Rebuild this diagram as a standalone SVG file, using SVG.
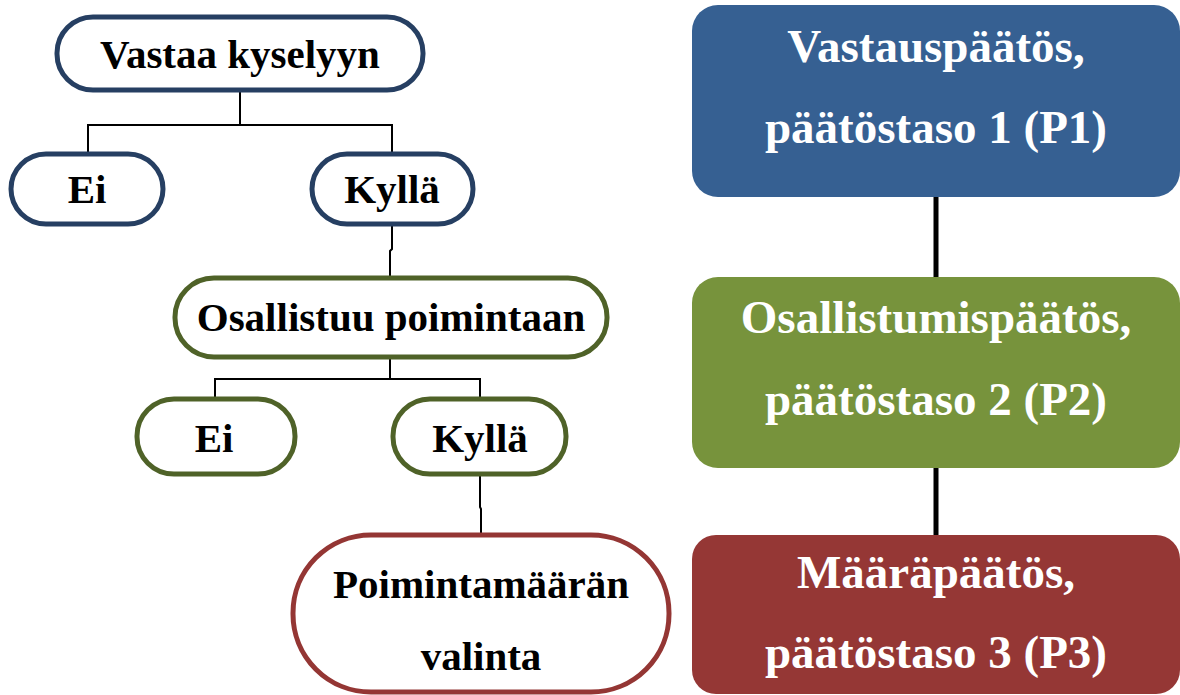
<svg xmlns="http://www.w3.org/2000/svg" width="1180" height="695" viewBox="0 0 1180 695">
<style>
text{font-family:"Liberation Serif","Times New Roman",serif;font-weight:bold;text-anchor:middle}
.l{font-size:41px;fill:#000}
.r{font-size:47px;fill:#fff}
.nb{fill:#fff;stroke:#263f62;stroke-width:5}
.ng{fill:#fff;stroke:#4f6228;stroke-width:5}
.nr{fill:#fff;stroke:#943634;stroke-width:5}
.c{fill:none;stroke:#000;stroke-width:2}
.ct{fill:none;stroke:#000;stroke-width:5}
</style>
<g id="connectors">
<path class="c" d="M240 91V125M88 125H392M88 124V154M392 124V154"/>
<path class="c" d="M392 224V249L390 251V277"/>
<path class="c" d="M390 358V379M215 379H480M215 378V398M480 378V398"/>
<path class="c" d="M480 475V507L481 509V533"/>
<path class="ct" d="M936 196V278M936 467V536"/>
</g>
<g id="vastaa"><rect class="nb" x="57" y="17" width="366" height="73" rx="36"/><text class="l" x="240" y="68">Vastaa kyselyyn</text></g>
<g id="ei1"><rect class="nb" x="11" y="154" width="152" height="70" rx="35"/><text class="l" x="87" y="203">Ei</text></g>
<g id="kylla1"><rect class="nb" x="312" y="154" width="161" height="70" rx="35"/><text class="l" x="392" y="203">Kyllä</text></g>
<g id="osallistuu"><rect class="ng" x="175" y="278" width="432" height="79" rx="39"/><text class="l" x="391" y="331">Osallistuu poimintaan</text></g>
<g id="ei2"><rect class="ng" x="137" y="399" width="158" height="75" rx="37"/><text class="l" x="214" y="452">Ei</text></g>
<g id="kylla2"><rect class="ng" x="393" y="399" width="173" height="75" rx="37"/><text class="l" x="480" y="452">Kyllä</text></g>
<g id="poiminta"><rect class="nr" x="293" y="535" width="376" height="157" rx="78"/><text class="l" x="481" y="598">Poimintamäärän</text><text class="l" x="481" y="670">valinta</text></g>
<g id="p1"><rect x="692" y="5" width="488" height="192" rx="26" fill="#366092"/><text class="r" x="936" y="62">Vastauspäätös,</text><text class="r" x="936" y="143">päätöstaso 1 (P1)</text></g>
<g id="p2"><rect x="692" y="277" width="488" height="191" rx="26" fill="#77933c"/><text class="r" x="936" y="333">Osallistumispäätös,</text><text class="r" x="936" y="415">päätöstaso 2 (P2)</text></g>
<g id="p3"><rect x="692" y="535" width="488" height="159" rx="24" fill="#953735"/><text class="r" x="936" y="588">Määräpäätös,</text><text class="r" x="936" y="668">päätöstaso 3 (P3)</text></g>
</svg>
